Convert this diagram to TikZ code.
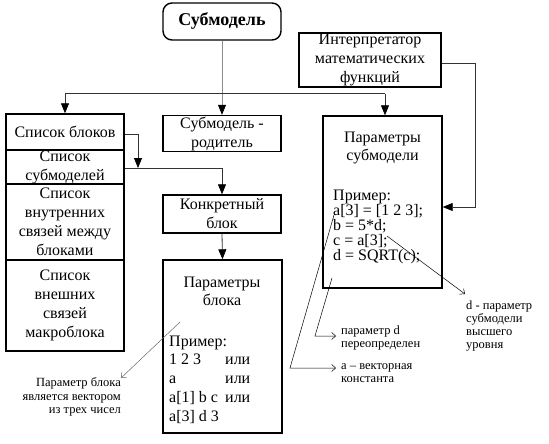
\documentclass[tikz,border=0pt]{standalone}
\usepackage{fontspec}
\setmainfont{Liberation Serif}
\usetikzlibrary{arrows.meta,calc}
\begin{document}
\begin{tikzpicture}[x=1pt,y=-1pt,
  box/.style={draw, line width=1.4pt, inner sep=0pt, align=center, font=\fontsize{16}{19}\selectfont},
  txt/.style={inner sep=0pt, font=\fontsize{16}{19}\selectfont},
  conn/.style={line width=0.8pt, draw=black!80},
  arr/.style={conn, -{Triangle[length=10pt,width=8pt,color=black]}},
  note/.style={inner sep=0pt, align=left, font=\fontsize{12.5}{13}\selectfont},
  notearr/.style={line width=0.5pt, -{Straight Barb[length=4pt,width=7pt]}}]
\useasboundingbox (0,0) rectangle (549,444);

% main boxes
\node[box, rounded corners=9pt, minimum width=118pt, minimum height=37pt,
      font=\fontsize{18}{20}\selectfont\bfseries] (sub) at (222,21.5) {Субмодель};
\node[box, minimum width=142pt, minimum height=54pt] (interp) at (370,60)
      {Интерпретатор\\математических\\функций};

\node[box, minimum width=118pt, minimum height=36pt] (blocks) at (65,132) {Список блоков};
\node[box, minimum width=118pt, minimum height=34pt] (submods) at (65,167) {Список\\субмоделей};
\node[box, minimum width=118pt, minimum height=76pt] (internal) at (65,222)
      {Список\\внутренних\\связей между\\блоками};
\node[box, minimum width=118pt, minimum height=91pt] (external) at (65,305.5)
      {Список\\внешних\\связей\\макроблока};

\node[box, minimum width=118pt, minimum height=36pt] (parent) at (222,133.5) {Субмодель -\\родитель};
\node[box, minimum width=118pt, minimum height=38pt] (concrete) at (222,214) {Конкретный\\блок};
\node[box, minimum width=119pt, minimum height=173pt] (pblock) at (222.5,346.5) {};
\node[box, minimum width=119pt, minimum height=172pt] (psub) at (382.5,202) {};

% texts inside parameter boxes
\node[txt, align=center, font=\fontsize{16}{18}\selectfont] (pblocktitle) at (222,291) {Параметры\\блока};
\node[txt, align=left, anchor=west, font=\fontsize{16}{18.75}\selectfont] (pblockcode) at (169,379.5)
      {Пример:\\\makebox[56pt][l]{1 2 3}или\\\makebox[56pt][l]{a}или\\\makebox[56pt][l]{a[1] b c}или\\a[3] d 3};
\node[txt, align=center, font=\fontsize{16}{18}\selectfont] (psubtitle) at (382.5,148) {Параметры\\субмодели};
\node[txt, align=left, anchor=west, font=\fontsize{16}{15}\selectfont] (psubcode) at (333,227)
      {Пример:\\a[3] = [1 2 3];\\b = 5*d;\\c = a[3];\\d = SQRT(c);};

% connectors
\coordinate (bus) at (0,93.5);
\draw[conn, draw=black!45, -{Triangle[length=10pt,width=8pt,color=black]}] (sub.south) -- (parent.north);
\draw[conn] (bus -| blocks.north) -- ($(bus -| psub.north)+(2.5,0)$);
\draw[arr] (bus -| blocks.north) -- (blocks.north);
\draw[arr] ($(bus -| psub.north)+(2.5,0)$) -- ($(psub.north)+(2.5,0)$);

\coordinate (j1) at (138,168);
\draw[arr] ($(blocks.east)+(0,2)$) -| (j1);
\draw[arr] ($(submods.east)+(0,1)$) -| (concrete.north);
\draw[arr] (concrete.south) -- (pblock.north);

\coordinate (k1) at (475,63);
\draw[arr] ($(interp.east)+(0,3)$) -- (k1) |- ($(psub.east)+(0,5)$);

% annotations
\node[note, anchor=west] (vecnote) at (341,373.5) {a – векторная\\константа};
\node[note, anchor=west] (redef) at (341,337.5) {параметр d\\переопределен};
\node[note, anchor=west] (highnote) at (466,326) {d - параметр\\субмодели\\высшего\\уровня};
\node[note, anchor=east, align=right, font=\fontsize{12.5}{13.5}\selectfont] (vec3) at (121,397)
      {Параметр блока\\является вектором\\из трех чисел};

\coordinate (pa) at (334,215);
\coordinate (ca) at (290,368);
\coordinate (ta) at (336,368);
\draw[notearr] (pa) -- (ca) -- (ta);

\coordinate (pd) at (332,278);
\coordinate (cd) at (315,336);
\coordinate (td) at (336,336);
\draw[notearr] (pd) -- (cd) -- (td);

\coordinate (pb) at (387,236);
\coordinate (tb) at (465,294);
\draw[notearr] (pb) -- (tb);

\coordinate (pbl) at (180,322);
\coordinate (tbl) at (121,378);
\draw[notearr, draw=black!60] (pbl) -- (tbl);
\end{tikzpicture}
\end{document}
